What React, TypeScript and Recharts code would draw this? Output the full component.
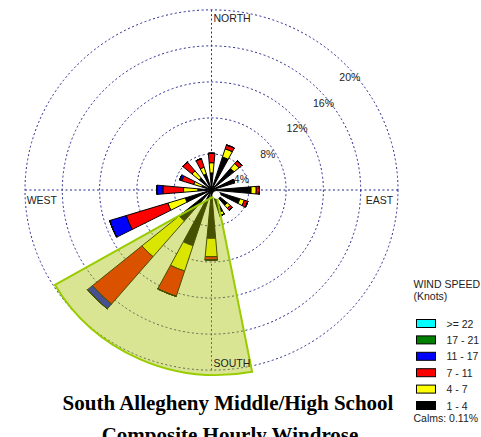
import React from 'react';
import { RadialBarChart, RadialBar, PolarGrid, PolarAngleAxis, PolarRadiusAxis, PieChart, Pie } from 'recharts';

// wind directions, clockwise from north
const DIRECTIONS = ['N', 'NNE', 'NE', 'ENE', 'E', 'ESE', 'SE', 'SSE', 'S', 'SSW', 'SW', 'WSW', 'W', 'WNW', 'NW', 'NNW'];

// percent of hours per speed class (knots)
const SPEED_1_4 = [1.9, 3.85, 3.15, 2.6, 4.25, 3.2, 2.2, 2.6, 5.37, 6.5, 4.5, 2.95, 1.47, 1.1, 1.75, 1.85];
const SPEED_4_7 = [1.13, 0.95, 0.7, 0, 0.55, 0.5, 0.45, 0.4, 2.04, 2.95, 5.2, 1.95, 1.53, 0.9, 1.0, 0.8];
const SPEED_7_11 = [1.05, 0.45, 0.4, 0, 0.35, 0.4, 0.3, 0, 0.37, 2.95, 6.9, 4.67, 2.22, 1.35, 1.3, 1.0];
const SPEED_11_17 = [0, 0, 0, 0, 0, 0, 0, 0, 0, 0, 0.7, 1.87, 0.65, 0.25, 0, 0];
const SPEED_17_21 = [0, 0, 0, 0, 0, 0, 0, 0, 0, 0, 0, 0, 0, 0, 0, 0];
const SPEED_22 = [0, 0, 0, 0, 0, 0, 0, 0, 0, 0, 0, 0, 0, 0, 0, 0];

const SPEED_CLASSES = [
  { key: 's1', label: '1 - 4', color: '#000000', values: SPEED_1_4 },
  { key: 's2', label: '4 - 7', color: '#ffff00', values: SPEED_4_7 },
  { key: 's3', label: '7 - 11', color: '#ff0000', values: SPEED_7_11 },
  { key: 's4', label: '11 - 17', color: '#0000ff', values: SPEED_11_17 },
  { key: 's5', label: '17 - 21', color: '#008000', values: SPEED_17_21 },
  { key: 's6', label: '>= 22', color: '#00ffff', values: SPEED_22 },
];

const RING_TICKS = [4, 8, 12, 16, 20];
const CALMS = '0.11%';
// highlighted sector, compass bearings
const SECTOR_FROM = 169;
const SECTOR_TO = 240;

const data = DIRECTIONS.map((dir, i) => {
  const row: any = { dir };
  SPEED_CLASSES.forEach((s) => {
    row[s.key] = s.values[i];
  });
  return row;
});

const W = 481;
const H = 437;
const CX = 211.5;
const CY = 190;
const R = 186.5;
const SQUASH = 0.966; // rings are a little flatter than wide
const FONT = '"Liberation Sans", Arial, sans-serif';
const toChartAngle = (bearing: number) => 90 - bearing;

const RingTick = (props: any) => {
  const { x, y, payload } = props;
  return (
    <text x={x - 4} y={y + 19.5} fontSize={10.5} fontFamily={FONT} fill="#222">
      {payload.value}%
    </text>
  );
};

const layer: React.CSSProperties = { position: 'absolute', left: 0, top: 0, pointerEvents: 'none' };

// shared polar frame for the bar layer and the label layer
const polarProps = {
  width: W,
  height: H,
  data,
  layout: 'centric' as const,
  cx: CX,
  cy: CY,
  innerRadius: 0,
  outerRadius: R,
  startAngle: 78.75,
  endAngle: -281.25,
  barSize: 10,
};

const App = () => {
  const legendRows = [...SPEED_CLASSES].reverse();
  return (
    <div style={{ position: 'absolute', left: 0, top: 0, width: W, height: H, background: '#fff', overflow: 'hidden' }}>
      <div style={{ position: 'absolute', left: 0, top: 0, width: W, height: H, transform: `scaleY(${SQUASH})`, transformOrigin: `0 ${CY}px` }}>
        <div style={layer}>
          <RadialBarChart {...polarProps}>
            <PolarGrid gridType="circle" polarAngles={[0, 90, 180, 270]} stroke="#22228a" strokeDasharray="2 2.5" />
            <PolarAngleAxis dataKey="dir" type="category" tick={false} axisLine={false} tickLine={false} />
            <PolarRadiusAxis type="number" domain={[0, 20]} ticks={RING_TICKS} angle={45} axisLine={false} tickLine={false} tick={false} />
            {SPEED_CLASSES.map((s) => (
              <RadialBar
                key={s.key}
                dataKey={s.key}
                stackId="a"
                fill={s.color}
                stroke="#000"
                strokeWidth={1}
                isAnimationActive={false}
              />
            ))}
          </RadialBarChart>
        </div>
        <div style={layer}>
          <PieChart width={W} height={H}>
            <Pie
              data={[{ name: 'sector', value: 1 }]}
              dataKey="value"
              cx={CX}
              cy={CY}
              innerRadius={0}
              outerRadius={R}
              startAngle={toChartAngle(SECTOR_FROM)}
              endAngle={toChartAngle(SECTOR_TO)}
              fill="#a8c000"
              fillOpacity={0.42}
              stroke="#99cc00"
              strokeWidth={2}
              isAnimationActive={false}
            />
            <Pie
              data={[{ name: 'calm', value: 1 }]}
              dataKey="value"
              cx={CX}
              cy={CY}
              innerRadius={0}
              outerRadius={4}
              fill="#fff"
              stroke="none"
              isAnimationActive={false}
            />
          </PieChart>
        </div>
        <div style={layer}>
          {/* ring labels drawn above the bars */}
          <RadialBarChart {...polarProps}>
            <PolarAngleAxis dataKey="dir" type="category" tick={false} axisLine={false} tickLine={false} />
            <PolarRadiusAxis
              type="number"
              domain={[0, 20]}
              ticks={RING_TICKS}
              angle={45}
              axisLine={false}
              tickLine={false}
              tick={<RingTick />}
            />
            <RadialBar dataKey="s1" fill="none" stroke="none" isAnimationActive={false} />
          </RadialBarChart>
        </div>
      </div>
      <svg width={W} height={H} style={{ position: 'absolute', left: 0, top: 0 }}>
        <g fontFamily={FONT} fontSize={10.5} fill="#222">
          <text x={213.5} y={21.7}>NORTH</text>
          <text x={26.7} y={203.5}>WEST</text>
          <text x={365.7} y={203.5}>EAST</text>
          <text x={213.5} y={367}>SOUTH</text>
          <text x={413.5} y={288}>WIND SPEED</text>
          <text x={413.5} y={299.5}>(Knots)</text>
          {legendRows.map((s, i) => (
            <g key={s.key}>
              <rect x={416.5} y={319.5 + i * 16.4} width={19} height={8} fill={s.color} stroke="#000" strokeWidth={1} />
              <text x={446.5} y={327.5 + i * 16.4}>{s.label}</text>
            </g>
          ))}
          <text x={413.5} y={421.5}>Calms: {CALMS}</text>
        </g>
        <g fontFamily='"Liberation Serif", "Times New Roman", serif' fontWeight="bold" fontSize={21} fill="#000" textAnchor="middle">
          <text x={228} y={410}>South Allegheny Middle/High School</text>
          <text x={230} y={442}>Composite Hourly Windrose</text>
        </g>
      </svg>
    </div>
  );
};

export default App;
